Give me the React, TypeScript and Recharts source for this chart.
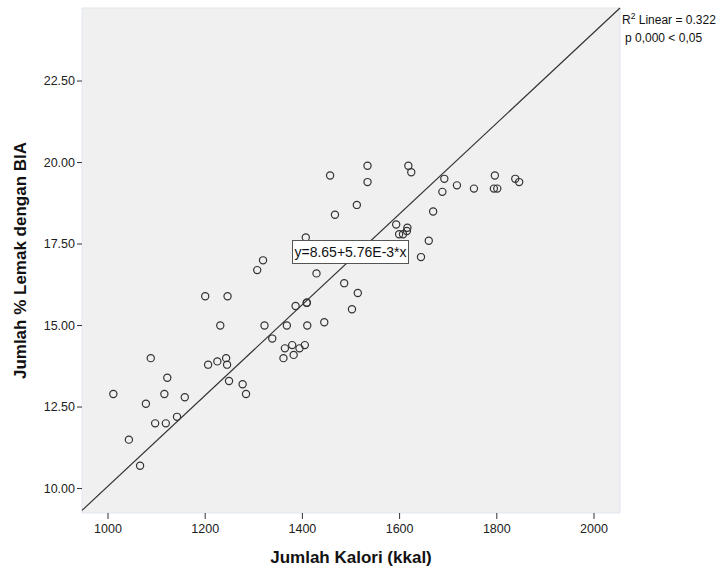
import { ScatterChart, Scatter, XAxis, YAxis, ReferenceArea, ReferenceLine } from 'recharts';

// Jumlah Kalori (kkal) vs Jumlah % Lemak dengan BIA
const kaloriKkal = [
  1011, 1043, 1066, 1078, 1088, 1097, 1116, 1119, 1122, 1142, 1158,
  1200, 1206, 1225, 1231, 1243, 1245, 1246, 1249, 1277, 1284,
  1307, 1319, 1322, 1338, 1361, 1364, 1368, 1379, 1382, 1386, 1394, 1405,
  1409, 1409, 1410, 1407, 1429, 1445, 1457, 1467, 1486, 1502, 1512, 1514,
  1534, 1534, 1593, 1599, 1607, 1616, 1615, 1618, 1624, 1644, 1660, 1669,
  1688, 1692, 1718, 1753, 1796, 1794, 1801, 1838, 1846,
];
const lemakBia = [
  12.9, 11.5, 10.7, 12.6, 14.0, 12.0, 12.9, 12.0, 13.4, 12.2, 12.8,
  15.9, 13.8, 13.9, 15.0, 14.0, 13.8, 15.9, 13.3, 13.2, 12.9,
  16.7, 17.0, 15.0, 14.6, 14.0, 14.3, 15.0, 14.4, 14.1, 15.6, 14.3, 14.4,
  15.7, 15.7, 15.0, 17.7, 16.6, 15.1, 19.6, 18.4, 16.3, 15.5, 18.7, 16.0,
  19.9, 19.4, 18.1, 17.8, 17.8, 18.0, 17.9, 19.9, 19.7, 17.1, 17.6, 18.5,
  19.1, 19.5, 19.3, 19.2, 19.6, 19.2, 19.2, 19.5, 19.4,
];

const xDomain: [number, number] = [946.5, 2053.5];
const yDomain: [number, number] = [9.25, 24.74];
const xTicks = [1000, 1200, 1400, 1600, 1800, 2000];
const yTicks = [10, 12.5, 15, 17.5, 20, 22.5];

// fit line as drawn in the figure (corner to corner)
const fitLine = [
  { x: 946.5, y: 9.33 },
  { x: 2053.5, y: 24.74 },
];

const points = kaloriKkal.map((k, i) => ({ kalori: k, lemak: lemakBia[i] }));

const tickFont = { fontSize: 12.5, fill: '#222', fontFamily: '"Liberation Sans Narrow", "Liberation Sans", Arial, sans-serif' };
const titleFont = { fontSize: 17, fontWeight: 700, fill: '#111', fontFamily: '"Liberation Sans", Arial, sans-serif' };

const Ring = (props: any) => (
  <circle cx={props.cx} cy={props.cy} r={3.6} fill="none" stroke="#333" strokeWidth={1.2} />
);

export default function App() {
  return (
    <div style={{ position: 'absolute', left: 0, top: 0, width: 719, height: 567, background: '#fff', fontFamily: '"Liberation Sans", Arial, sans-serif' }}>
      <ScatterChart width={719} height={567} margin={{ top: 8, right: 99, bottom: 0, left: 0 }}>
        <XAxis
          type="number"
          dataKey="kalori"
          domain={xDomain}
          ticks={xTicks}
          allowDataOverflow
          axisLine={false}
          tickLine={{ stroke: '#333' }}
          tickSize={6}
          tickMargin={5}
          tick={tickFont}
          height={54}
          label={{ value: 'Jumlah Kalori (kkal)', position: 'center', dy: 17, style: titleFont }}
        />
        <YAxis
          type="number"
          dataKey="lemak"
          domain={yDomain}
          ticks={yTicks}
          allowDataOverflow
          axisLine={false}
          tickLine={{ stroke: '#333' }}
          tickSize={5}
          tickMargin={2}
          tick={tickFont}
          tickFormatter={(v: number) => v.toFixed(2)}
          width={82}
          label={{ value: 'Jumlah % Lemak dengan BIA', angle: -90, position: 'center', dx: -21, style: titleFont }}
        />
        <ReferenceArea x1={xDomain[0]} x2={xDomain[1]} y1={yDomain[0]} y2={yDomain[1]} fill="#f0f0f0" fillOpacity={1} stroke="#dfe6ee" />
        <ReferenceLine segment={fitLine} stroke="#333" strokeWidth={1.2} ifOverflow="visible" />
        <Scatter data={points} shape={Ring} isAnimationActive={false} />
      </ScatterChart>
      <div style={{ position: 'absolute', left: 292, top: 240, width: 115, height: 22, border: '1px solid #555', background: '#fff', fontSize: 14, lineHeight: '22px', textAlign: 'center', color: '#111' }}>
        y=8.65+5.76E-3*x
      </div>
      <div style={{ position: 'absolute', left: 622, top: 11, fontSize: 12, color: '#111', whiteSpace: 'nowrap' }}>
        R<sup style={{ fontSize: 8.5 }}>2</sup> Linear = 0.322
      </div>
      <div style={{ position: 'absolute', left: 625, top: 31, fontSize: 12, color: '#111', whiteSpace: 'nowrap' }}>
        p 0,000 &lt; 0,05
      </div>
    </div>
  );
}
